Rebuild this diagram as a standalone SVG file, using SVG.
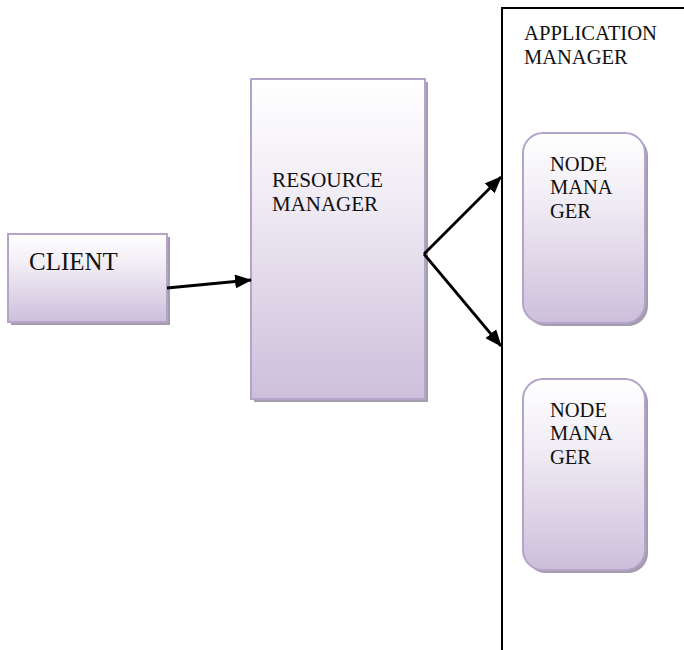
<svg xmlns="http://www.w3.org/2000/svg" width="684" height="650" viewBox="0 0 684 650">
<defs>
<linearGradient id="g" x1="0" y1="0" x2="0" y2="1">
<stop offset="0" stop-color="#ffffff"/>
<stop offset="0.35" stop-color="#f1edf5"/>
<stop offset="1" stop-color="#cdbfdb"/>
</linearGradient>
<marker id="ah" markerWidth="17" markerHeight="14" refX="16" refY="7" orient="auto" markerUnits="userSpaceOnUse">
<path d="M0,0 L17,7 L0,14 Z" fill="#000"/>
</marker>
</defs>
<style>
.box{fill:url(#g);stroke:#b4a4c9;stroke-width:2}
.sh{fill:#a59cae}
.t{font-family:"Liberation Serif","Times New Roman",serif;font-size:20.5px;fill:#111}
.c{stroke:#000;stroke-width:2.8;fill:none;marker-end:url(#ah)}
</style>
<rect width="684" height="650" fill="#fff"/>
<g id="app-manager">
<path d="M502,650 L502,8 L684,8" fill="none" stroke="#000" stroke-width="2"/>
<text class="t" x="524" y="40" textLength="133" lengthAdjust="spacingAndGlyphs">APPLICATION</text>
<text class="t" x="524" y="64">MANAGER</text>
</g>
<g id="client">
<rect class="sh" x="11" y="237" width="159" height="88"/>
<rect class="box" x="8" y="234" width="159" height="88"/>
<text class="t" x="29" y="270" style="font-size:25px">CLIENT</text>
</g>
<g id="resource-manager">
<rect class="sh" x="254" y="82" width="174" height="320"/>
<rect class="box" x="251" y="79" width="174" height="320"/>
<text class="t" x="272" y="187" textLength="111" lengthAdjust="spacingAndGlyphs">RESOURCE</text>
<text class="t" x="272" y="211" textLength="106" lengthAdjust="spacingAndGlyphs">MANAGER</text>
</g>
<g id="node-manager-1">
<rect class="sh" x="526" y="136" width="122" height="190" rx="20"/>
<rect class="box" x="523" y="133" width="122" height="190" rx="20"/>
<text class="t" x="550" y="171">NODE</text>
<text class="t" x="550" y="194">MANA</text>
<text class="t" x="550" y="218">GER</text>
</g>
<g id="node-manager-2">
<rect class="sh" x="526" y="382" width="122" height="191" rx="20"/>
<rect class="box" x="523" y="379" width="122" height="191" rx="20"/>
<text class="t" x="550" y="417">NODE</text>
<text class="t" x="550" y="440">MANA</text>
<text class="t" x="550" y="464">GER</text>
</g>
<g id="connectors">
<line class="c" x1="167" y1="288" x2="251" y2="280"/>
<line class="c" x1="424" y1="254" x2="501" y2="177"/>
<line class="c" x1="424" y1="254" x2="501" y2="346"/>
</g>
</svg>
